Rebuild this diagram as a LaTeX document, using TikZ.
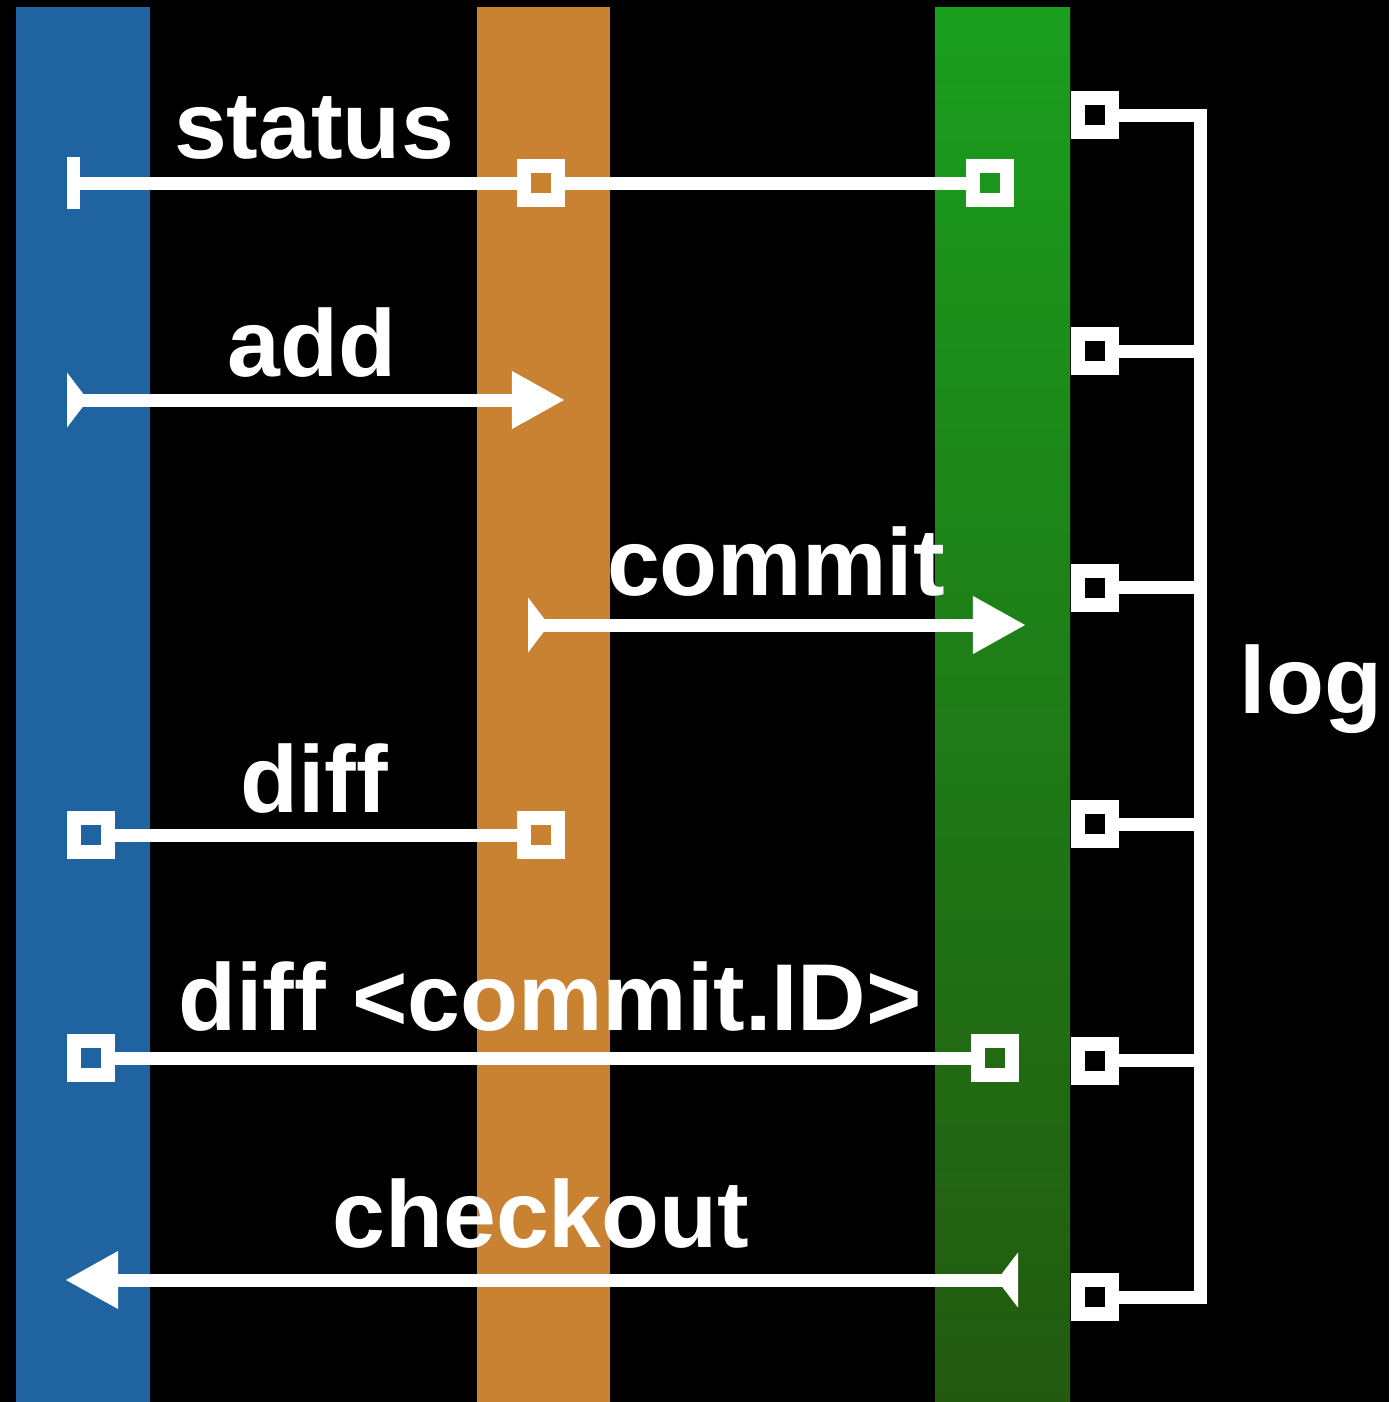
\documentclass[tikz,border=0pt]{standalone}
\usepackage{fontspec}
\setmainfont{Liberation Sans}
\usetikzlibrary{arrows.meta}
\definecolor{workblue}{RGB}{31,100,160}
\definecolor{stageorange}{RGB}{200,130,50}
\definecolor{repotop}{RGB}{26,158,30}
\definecolor{repobot}{RGB}{35,90,16}
\tikzset{
	headtip/.tip={Triangle[length=0.53cm, width=0.54cm]},
	tailtip/.tip={Triangle[reversed, length=0.21cm, width=0.54cm]},
	teetip/.tip={Rectangle[length=0.13cm, width=0.52cm]}
}
\begin{document}
\begin{tikzpicture}[x=0.01cm, y=-0.01cm,
	wire/.style={draw=white, line width=0.13cm},
	box/.style={draw=white, line width=0.14cm, minimum size=0.34cm, inner sep=0pt, rectangle},
	lbl/.style={text=white, anchor=base, font=\bfseries\fontsize{27}{32}\selectfont}]
				\fill[black] (0,0) rectangle (1389,1402);
				\fill[workblue] (16,7) rectangle (150,1402);
				\fill[stageorange] (477,7) rectangle (610,1402);
				\shade[top color=repotop, bottom color=repobot] (935,7) rectangle (1070,1402);
				
				\coordinate (T) at (67,183);
				\node[box] (S1) at (541,183) {};
				\node[box] (S2) at (990,183) {};
				\coordinate (A1) at (67,400);
				\coordinate (A2) at (565,400);
				\coordinate (C1) at (528,625);
				\coordinate (C2) at (1026,625);
				\node[box] (D1) at (91,835) {};
				\node[box] (D2) at (541,835) {};
				\node[box] (E1) at (91,1058) {};
				\node[box] (E2) at (995,1058) {};
				\coordinate (K1) at (1018,1280);
				\coordinate (K2) at (65,1280);
				\foreach \i in {1,...,6}
					\node[box] (L\i) at (1095,{115+236.4*(\i-1)}) {};
				\coordinate (X) at (1200,0);
				
				\node[lbl] at (314,158) {status};
				\node[lbl] at (312,376) {add};
				\node[lbl] at (776,595) {commit};
				\node[lbl] at (314,812) {diff};
				\node[lbl] at (550,1030) {diff <commit.ID>};
				\node[lbl] at (541,1247) {checkout};
				\node[lbl] at (1311,713) {log};
				
				\draw[wire, teetip-] (T) -- (S1);
				\draw[wire] (S1) -- (S2);
				\draw[wire, tailtip-headtip] (A1) -- (A2);
				\draw[wire, tailtip-headtip] (C1) -- (C2);
				\draw[wire] (D1) -- (D2);
				\draw[wire] (E1) -- (E2);
				\draw[wire, tailtip-headtip] (K1) -- (K2);
				
				\draw[wire] (L1.east) -- (L1.east -| X) -- (L6.east -| X) -- (L6.east);
				\foreach \i in {2,...,5}
					\draw[wire] (L\i.east) -- (L\i.east -| X);
				\end{tikzpicture}
\end{document}
